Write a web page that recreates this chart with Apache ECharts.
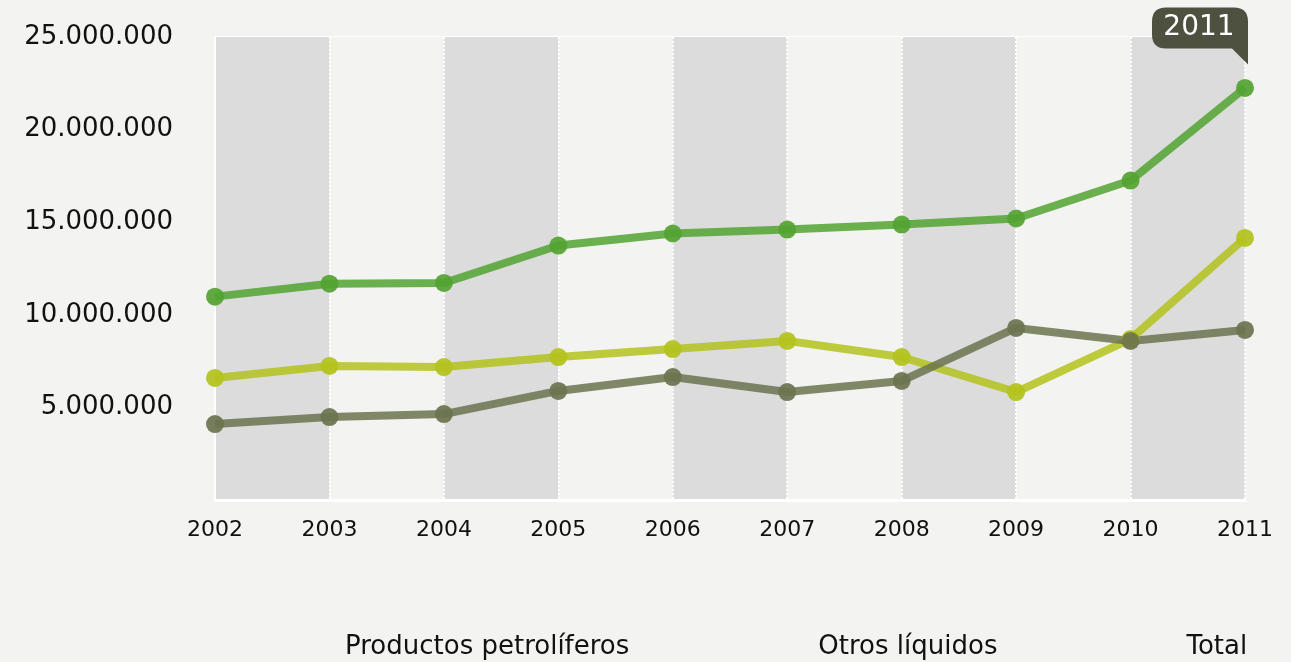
<!DOCTYPE html>
<html>
<head>
<meta charset="utf-8">
<script src="https://cdn.jsdelivr.net/npm/echarts@6/dist/echarts.min.js"></script>
<style>
  html, body { margin: 0; padding: 0; background: #f3f3f1; }
  #chart { width: 1291px; height: 662px; }
</style>
</head>
<body>
<div id="chart"></div>
<script>
const years = ['2002', '2003', '2004', '2005', '2006', '2007', '2008', '2009', '2010', '2011']
const productosPetroliferos = [6590000, 7240000, 7180000, 7720000, 8150000, 8590000, 7720000, 5830000, 8690000, 14150000]
const otrosLiquidos = [4100000, 4480000, 4640000, 5890000, 6640000, 5830000, 6430000, 9290000, 8590000, 9180000]
const total = [10980000, 11680000, 11720000, 13740000, 14390000, 14600000, 14870000, 15200000, 17250000, 22250000]
const yTicks = [0, 5000000, 10000000, 15000000, 20000000, 25000000]
const highlightYear = '2011'

const FONT = 'DejaVu Sans, Liberation Sans, sans-serif'
const fmt = (v) => v === 0 ? '' : String(v).replace(/\B(?=(\d{3})+(?!\d))/g, '.')

const chart = echarts.init(document.getElementById('chart'))

const lineSeries = (name, data, color) => ({
  name: name,
  type: 'line',
  data: data,
  symbol: 'circle',
  symbolSize: 18,
  lineStyle: { width: 8, color: color, opacity: 0.85 },
  itemStyle: { color: color, opacity: 0.92 },
  emphasis: { disabled: true }
})

const totalSeries = lineSeries('Total', total, '#52a331')
totalSeries.markPoint = {
  silent: true,
  symbol: 'path://M14,0 L82,0 Q96,0 96,14 L96,57 L80,41 L14,41 Q0,41 0,27 L0,14 Q0,0 14,0 Z',
  symbolSize: [96, 57],
  symbolOffset: [-45, -1],
  symbolKeepAspect: false,
  itemStyle: { color: '#4e5040' },
  label: {
    show: true,
    position: 'inside',
    offset: [-1, -8],
    color: '#ffffff',
    fontSize: 28,
    fontFamily: FONT,
    formatter: highlightYear
  },
  data: [{ coord: [highlightYear, yTicks[yTicks.length - 1]] }]
}

const option = {
  backgroundColor: '#f3f3f1',
  animation: false,
  textStyle: { fontFamily: FONT },
  grid: { left: 215, right: 46, top: 37, bottom: 162 },
  legend: {
    bottom: 2,
    left: 340,
    padding: 0,
    icon: 'rect',
    itemWidth: 0,
    itemHeight: 0,
    itemGap: 184,
    selectedMode: false,
    textStyle: { fontSize: 26, color: '#111111', fontFamily: FONT },
    data: ['Productos petrolíferos', 'Otros líquidos', 'Total']
  },
  xAxis: {
    type: 'category',
    data: years,
    boundaryGap: false,
    axisLine: { lineStyle: { color: '#ffffff', width: 3 } },
    axisTick: { show: false },
    axisLabel: { color: '#111111', fontSize: 22, margin: 19 },
    splitLine: { show: true, lineStyle: { color: '#ffffff', width: 2, type: [2, 2] } },
    splitArea: { show: true, areaStyle: { color: ['#dcdcdc', '#f3f3f1'] } }
  },
  yAxis: {
    type: 'value',
    min: yTicks[0],
    max: yTicks[yTicks.length - 1],
    interval: yTicks[1] - yTicks[0],
    axisLine: { show: true, lineStyle: { color: '#ffffff', width: 2 } },
    axisTick: { show: false },
    axisLabel: { color: '#111111', fontSize: 26, margin: 42, formatter: fmt },
    splitLine: { lineStyle: { color: '#ffffff', width: 2 } }
  },
  series: [
    lineSeries('Productos petrolíferos', productosPetroliferos, '#b3c21c'),
    lineSeries('Otros líquidos', otrosLiquidos, '#6b734f'),
    totalSeries
  ]
}

chart.setOption(option)
</script>
</body>
</html>
